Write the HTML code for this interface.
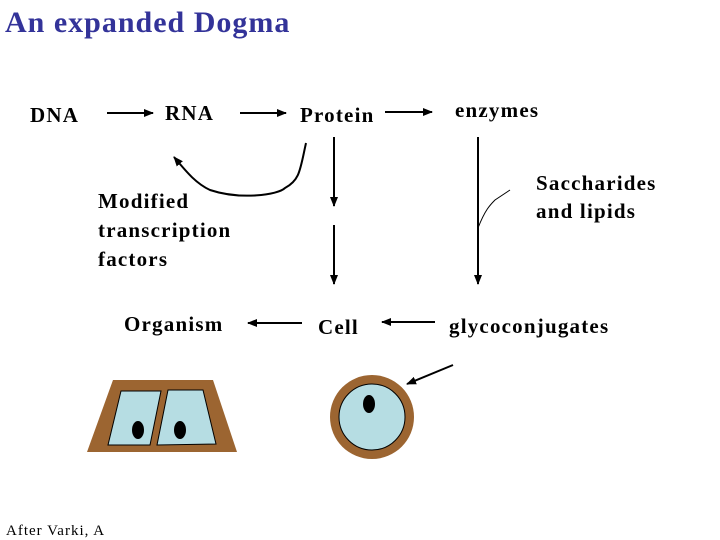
<!DOCTYPE html>
<html><head><style>
body{margin:0;width:720px;height:540px;background:#fff;position:relative;overflow:hidden;font-family:"Liberation Serif",serif;}
.t{position:absolute;font-size:21px;font-weight:bold;letter-spacing:1.2px;color:#000;line-height:1;white-space:nowrap}
</style></head><body>
<div class="t" style="left:5px;top:8px;font-size:30px;color:#333399;letter-spacing:1px;">An expanded Dogma</div>
<div class="t" style="left:30px;top:105px;">DNA</div>
<div class="t" style="left:165px;top:103px;">RNA</div>
<div class="t" style="left:300px;top:105px;">Protein</div>
<div class="t" style="left:455px;top:100px;">enzymes</div>
<div class="t" style="left:536px;top:169px;line-height:28px;">Saccharides<br>and lipids</div>
<div class="t" style="left:98px;top:187px;line-height:29px;">Modified<br>transcription<br>factors</div>
<div class="t" style="left:124px;top:314px;">Organism</div>
<div class="t" style="left:318px;top:317px;">Cell</div>
<div class="t" style="left:449px;top:316px;">glycoconjugates</div>
<div class="t" style="left:6px;top:524px;font-size:15px;font-weight:normal;letter-spacing:1px;">After Varki, A</div>
<svg width="720" height="540" style="position:absolute;left:0;top:0">
<defs><marker id="a" markerWidth="10" markerHeight="8" refX="9" refY="4" orient="auto" markerUnits="userSpaceOnUse"><path d="M0,0 L10,4 L0,8 z"/></marker></defs>
<g stroke="#000" stroke-width="2" fill="none">
<line x1="107" y1="113" x2="153" y2="113" marker-end="url(#a)"/>
<line x1="240" y1="113" x2="286" y2="113" marker-end="url(#a)"/>
<line x1="385" y1="112" x2="432" y2="112" marker-end="url(#a)"/>
<line x1="334" y1="137" x2="334" y2="206" marker-end="url(#a)"/>
<line x1="334" y1="225" x2="334" y2="284" marker-end="url(#a)"/>
<line x1="478" y1="137" x2="478" y2="284" marker-end="url(#a)"/>
<path d="M306,143 C300,170 300,180 285,188 C278,195 240,200 210,190 C195,183 185,170 174,157" marker-end="url(#a)"/>
<line x1="302" y1="323" x2="248" y2="323" marker-end="url(#a)"/>
<line x1="435" y1="322" x2="382" y2="322" marker-end="url(#a)"/>
<line x1="453" y1="365" x2="407" y2="384" marker-end="url(#a)"/>
<path d="M478,228 C485,210 490,205 495,200 L510,190" stroke-width="1"/>
</g>
<polygon points="113,380 213,380 237,452 87,452" fill="#9c6531"/>
<polygon points="121,391 161,391 150,445 108,445" fill="#b6dde3" stroke="#000" stroke-width="1"/>
<polygon points="168,390 203,390 216,444 157,445" fill="#b6dde3" stroke="#000" stroke-width="1"/>
<ellipse cx="138" cy="430" rx="6" ry="9"/>
<ellipse cx="180" cy="430" rx="6" ry="9"/>
<circle cx="372" cy="417" r="42" fill="#9c6531"/>
<circle cx="372" cy="417" r="33" fill="#b6dde3" stroke="#000" stroke-width="1"/>
<ellipse cx="369" cy="404" rx="6" ry="9"/>
</svg>
</body></html>
